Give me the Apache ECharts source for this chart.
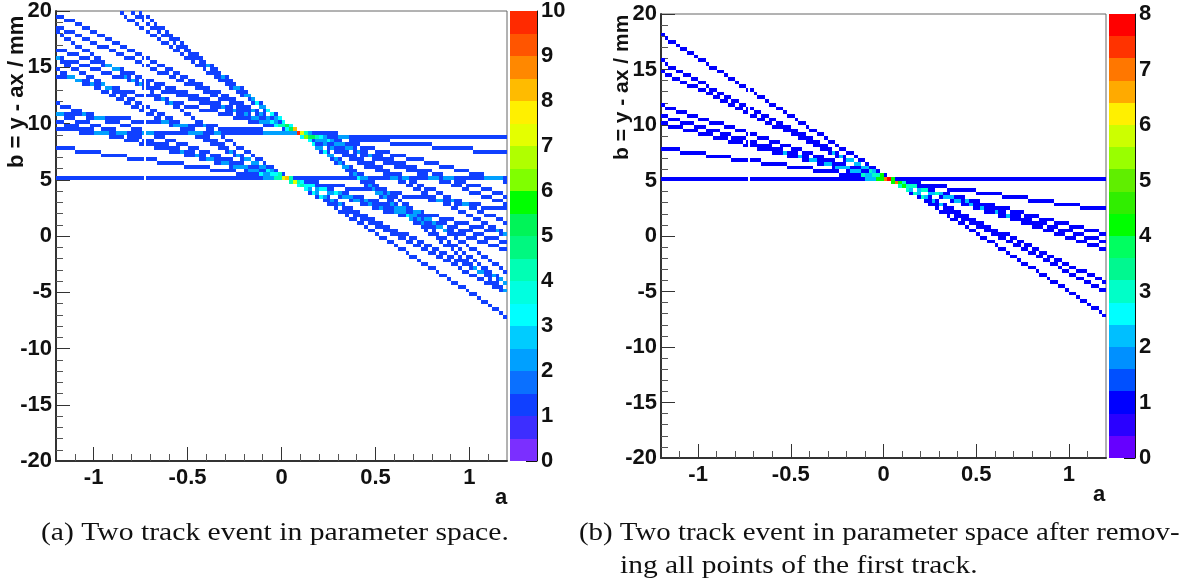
<!DOCTYPE html>
<html><head><meta charset="utf-8">
<style>html,body{margin:0;padding:0;background:#fff}#c{width:1190px;height:583px}</style>
<script src="https://cdn.jsdelivr.net/npm/echarts@6/dist/echarts.min.js"></script>
</head><body><div id="c"></div>
<script>
// Histogram binning
const aRange = [-1.2, 1.2];
const bRange = [-20, 20];
const binCount = 120;
// Tick values
const aMajor = [-1, -0.5, 0, 0.5, 1];
const aMinor = [-1.1,-0.9,-0.8,-0.7,-0.6,-0.4,-0.3,-0.2,-0.1,0.1,0.2,0.3,0.4,0.6,0.7,0.8,0.9,1.1];
const bMajor = [-20,-15,-10,-5,0,5,10,15,20];
const bMinor = [-19,-18,-17,-16,-14,-13,-12,-11,-9,-8,-7,-6,-4,-3,-2,-1,1,2,3,4,6,7,8,9,11,12,13,14,16,17,18,19];
const zTicksA = [0,1,2,3,4,5,6,7,8,9,10];
const zTicksB = [0,1,2,3,4,5,6,7,8];
// Blank column stripe seen in both panels
const gapStripe = [-0.733, -0.722];
// Each track: [first row, first column, then the columns at which it steps down one row]
const trackA0 = [88,0,6,75];
const trackA1 = [92,0,8,20,31,43,55,66,78,89,100,111];
const trackA2 = [102,0,5,9,13,17,21,26,30,34,38,43,47,51,55,60,64,68,72,76,81,85,89,93,98,102,106,110,114,119];
const trackA3 = [107,0,2,6,9,12,15,19,22,25,28,32,35,38,41,45,48,51,54,58,61,64,67,71,74,77,80,83,87,90,93,96,100,103,106,109,113,116,119];
const trackA4 = [109,0,3,6,9,12,15,18,21,23,26,29,32,35,38,41,44,47,50,52,55,58,61,64,67,70,73,76,79,81,84,87,90,93,96,99,102,105,108,110,113,116,119];
const trackA5 = [115,0,2,5,7,9,11,14,16,18,21,23,25,27,30,32,34,37,39,41,43,46,48,50,53,55,57,59,62,64,66,69,71,73,76,78,80,82,85,87,89,92,94,96,98,101,103,105,108,110,112,114,117,119];
const trackA6 = [118,0,2,5,7,9,11,13,15,17,19,21,23,25,27,29,31,33,35,37,39,41,44,46,48,50,52,54,56,58,60,62,64,66,68,70,72,74,76,78,80,82,85,87,89,91,93,95,97,99,101,103,105,107,109,111,113,115,117,119];
const trackA7 = [119,17,18,19,21,22,24,25,27,28,30,31,33,34,36,37,39,40,42,43,45,46,48,49,51,52,54,55,57,58,60,61,63,64,65,67,68,70,71,73,74,76,77,79,80,82,83,85,86,88,89,91,92,94,95,97,98,100,101,103,104,106,107,109,110,112,113,115,116,118,119];
const trackA8 = [119,20,21,23,24,25,27,28,30,31,32,34,35,36,38,39,41,42,43,45,46,47,49,50,52,53,54,56,57,58,60,61,63,64,65,67,68,69,71,72,74,75,76,78,79,80,82,83,85,86,87,89,90,91,93,94,96,97,98,100,101,102,104,105,107,108,109,111,112,113,115,116,118,119];
const trackA9 = [119,22,23,25,26,27,29,30,31,33,34,35,36,38,39,40,42,43,44,46,47,48,50,51,52,53,55,56,57,59,60,61,63,64,65,67,68,69,70,72,73,74,76,77,78,80,81,82,84,85,86,88,89,90,91,93,94,95,97,98,99,101,102,103,105,106,107,108,110,111,112,114,115,116,118,119];
const trackB1 = [75,0];
const trackB2 = [83,0,5,12,19,27,34,41,48,55,63,70,77,85,92,99,106,113];
const trackB3 = [90,0,2,6,10,14,18,22,26,30,34,38,42,46,50,54,58,62,66,70,74,78,82,86,90,94,98,102,106,110,114,118];
const trackB4 = [92,0,2,5,9,12,16,19,23,26,30,33,37,40,44,47,51,54,58,62,65,69,72,76,79,83,86,90,93,97,100,104,107,111,114,118];
const trackB5 = [95,0,1,4,7,10,13,17,20,23,26,29,32,35,38,41,44,47,50,54,57,60,63,66,69,72,75,78,81,84,87,91,94,97,100,103,106,109,112,115,118];
const trackB6 = [104,0,1,3,5,7,10,12,14,16,18,20,22,24,26,28,30,33,35,37,39,41,43,45,47,49,52,54,56,58,60,62,64,66,68,70,73,75,77,79,81,83,85,87,89,91,94,96,98,100,102,104,106,108,110,112,115,117,119];
const trackB7 = [107,0,1,2,4,6,8,10,12,13,15,17,19,21,23,25,27,29,31,33,35,37,39,41,43,45,46,48,50,52,54,56,58,60,62,64,66,68,70,72,74,76,77,79,81,83,85,87,89,91,93,95,97,99,101,103,105,107,108,110,112,114,116,118];
const trackB8 = [114,0,1,2,4,5,7,9,10,12,13,15,17,18,20,21,23,25,26,28,29,31,33,34,36,37,39,40,42,44,45,47,48,50,52,53,55,56,58,59,61,63,64,66,67,69,71,72,74,75,77,78,80,82,83,85,86,88,90,91,93,94,96,97,99,101,102,104,105,107,109,110,112,113,115,116,118,119];
// Colour bar levels, bottom to top
const paletteA = ['#7B2FFF','#3D2EFF','#1040FF','#0A70FF','#00A0FF','#00CCFF','#00FFFF','#00FFE0','#00FFB4','#00F880','#00F458','#00FF00','#80FF00','#B0FF00','#E4FF00','#FFF000','#FFBB00','#FF8800','#FF5500','#FF2A00'];
const paletteB = ['#6600FF','#2A00FF','#0000FF','#0050FF','#0090FF','#00BFFF','#00FFFF','#00FFC8','#00F890','#00FF60','#00FF00','#30EE00','#60EE00','#99FF00','#CCFF00','#FFF000','#FFAA00','#FF7700','#FF3300','#FF0000'];
const zMaxA = 10, zMaxB = 8;
const tracksA = [trackA0,trackA1,trackA2,trackA3,trackA4,trackA5,trackA6,trackA7,trackA8,trackA9,trackB1,trackB2,trackB3,trackB4,trackB5,trackB6,trackB7,trackB8];
const tracksB = [trackB1,trackB2,trackB3,trackB4,trackB5,trackB6,trackB7,trackB8];

const FONT = '"Liberation Sans", Arial, sans-serif';
const aBin = (aRange[1]-aRange[0])/binCount, bBin = (bRange[1]-bRange[0])/binCount;

function histogram(tracks){
  const m = new Map();
  tracks.forEach(t=>{
    let row=t[0], i=2;
    for(let c=t[1]; c<binCount; c++){
      while(i<t.length && t[i]<=c){row--; i++;}
      const k=c+'_'+row; m.set(k,(m.get(k)||0)+1);
    }
  });
  const out=[];
  m.forEach((v,k)=>{
    const [c,r]=k.split('_').map(Number);
    out.push([aRange[0]+c*aBin, bRange[0]+r*bBin, aRange[0]+(c+1)*aBin, bRange[0]+(r+1)*bBin, v]);
  });
  return out;
}
function cellSeries(xi,yi,data,palette,zMax){
  return {type:'custom',xAxisIndex:xi,yAxisIndex:yi,clip:true,silent:true,data,
    encode:{x:[0,2],y:[1,3]},
    renderItem(p,api){
      const s=api.coord([api.value(0),api.value(1)]), e=api.coord([api.value(2),api.value(3)]);
      const lv=Math.min(palette.length-1,Math.floor(api.value(4)/(zMax/palette.length)));
      const x0=Math.round(s[0]),x1=Math.round(e[0]),y0=Math.round(e[1]),y1=Math.round(s[1]);
      return {type:'rect',shape:{x:x0,y:y0,width:x1-x0,height:y1-y0},style:{fill:palette[lv]}};
    }};
}
function gapSeries(xi,yi){
  return {type:'custom',xAxisIndex:xi,yAxisIndex:yi,clip:true,silent:true,z:3,data:[[gapStripe[0],gapStripe[1]]],
    encode:{x:[0,1]},
    renderItem(p,api){
      const s=api.coord([api.value(0),bRange[0]]), e=api.coord([api.value(1),bRange[1]]);
      return {type:'rect',shape:{x:Math.round(s[0]),y:e[1]+1,width:2,height:s[1]-e[1]-2},style:{fill:'#fff'}};
    }};
}
function barSeries(xi,yi,palette,zMax){
  return {type:'custom',xAxisIndex:xi,yAxisIndex:yi,silent:true,
    data:palette.map((c,i)=>[i*zMax/palette.length,(i+1)*zMax/palette.length]),
    encode:{y:[0,1]},
    renderItem(p,api){
      const s=api.coord([0,api.value(0)]), e=api.coord([1,api.value(1)]);
      const y0=Math.round(e[1]),y1=Math.round(s[1]);
      return {type:'rect',shape:{x:s[0],y:y0,width:e[0]-s[0],height:y1-y0},style:{fill:palette[p.dataIndex]}};
    }};
}
const lab={fontFamily:FONT,fontWeight:'bold',fontSize:22,color:'#111'};
function panelAxes(g,xs,ys){
  const line={show:true,onZero:false,lineStyle:{color:'#333',width:2}};
  const hidden={show:false,onZero:false};
  xs.push(
   {gridIndex:g,type:'value',min:aRange[0],max:aRange[1],position:'bottom',axisLine:line,splitLine:{show:false},
    axisTick:{show:true,inside:true,length:14,lineStyle:{color:'#333'},customValues:aMajor},
    axisLabel:{...lab,margin:6,customValues:aMajor,formatter:v=>String(v)}},
   {gridIndex:g,type:'value',min:aRange[0],max:aRange[1],position:'bottom',axisLine:hidden,splitLine:{show:false},
    axisTick:{show:true,inside:true,length:7,lineStyle:{color:'#555'},customValues:aMinor},
    axisLabel:{show:false}});
  ys.push(
   {gridIndex:g,type:'value',min:bRange[0],max:bRange[1],position:'left',axisLine:line,splitLine:{show:false},
    axisTick:{show:true,inside:true,length:14,lineStyle:{color:'#333'},customValues:bMajor},
    axisLabel:{...lab,margin:4,customValues:bMajor,formatter:v=>String(v)}},
   {gridIndex:g,type:'value',min:bRange[0],max:bRange[1],position:'left',axisLine:hidden,splitLine:{show:false},
    axisTick:{show:true,inside:true,length:7,lineStyle:{color:'#555'},customValues:bMinor},
    axisLabel:{show:false}});
}
function barAxes(g,xs,ys,zMax,ticks){
  xs.push({gridIndex:g,type:'value',min:0,max:1,show:false});
  ys.push({gridIndex:g,type:'value',min:0,max:zMax,position:'right',splitLine:{show:false},
    axisLine:{show:true,onZero:false,lineStyle:{color:'#111',width:1}},
    axisTick:{show:true,inside:true,length:11,lineStyle:{color:'#111'},customValues:ticks},
    axisLabel:{...lab,margin:4,customValues:ticks,formatter:v=>String(v)}});
}
const xs=[],ys=[];
panelAxes(0,xs,ys);           // axes 0,1
barAxes(1,xs,ys,zMaxA,zTicksA); // axis 2
panelAxes(2,xs,ys);           // axes 3,4
barAxes(3,xs,ys,zMaxB,zTicksB); // axis 5

function txt(x,y,text,font,extra){
  return Object.assign({type:'text',x,y,silent:true,style:{text,font,fill:'#111',textAlign:'left',textVerticalAlign:'middle'}},extra||{});
}
const titleFont='bold 22px "Liberation Sans"';
const titleFontB='bold 21px "Liberation Sans"';
const capFont='26px "Liberation Serif"';
const chart=echarts.init(document.getElementById('c'),null,{renderer:'canvas'});
chart.setOption({
  animation:false,backgroundColor:'#fff',
  grid:[
    {left:56,top:11,width:451,height:450,show:true,borderColor:'#666',borderWidth:1,backgroundColor:'#fff'},
    {left:510,top:11,width:27,height:450,show:false},
    {left:661,top:14,width:445,height:444,show:true,borderColor:'#666',borderWidth:1,backgroundColor:'#fff'},
    {left:1109,top:14,width:26,height:444,show:false}
  ],
  xAxis:xs,yAxis:ys,
  series:[
    cellSeries(0,0,histogram(tracksA),paletteA,zMaxA),gapSeries(0,0),barSeries(2,2,paletteA,zMaxA),
    cellSeries(3,3,histogram(tracksB),paletteB,zMaxB),gapSeries(3,3),barSeries(5,5,paletteB,zMaxB)
  ],
  graphic:[
    txt(495,498,'a',titleFont),
    txt(1093,495,'a',titleFont),
    txt(17,168,'b = y - ax / mm',titleFont,{rotation:Math.PI/2}),
    txt(622,160,'b = y - ax / mm',titleFontB,{rotation:Math.PI/2}),
    txt(41,533,'(a) Two track event in parameter space.',capFont,{scaleX:1.14}),
    txt(579,533,'(b) Two track event in parameter space after remov-',capFont,{scaleX:1.11}),
    txt(620,566,'ing all points of the first track.',capFont,{scaleX:1.133})
  ]
});
</script></body></html>
